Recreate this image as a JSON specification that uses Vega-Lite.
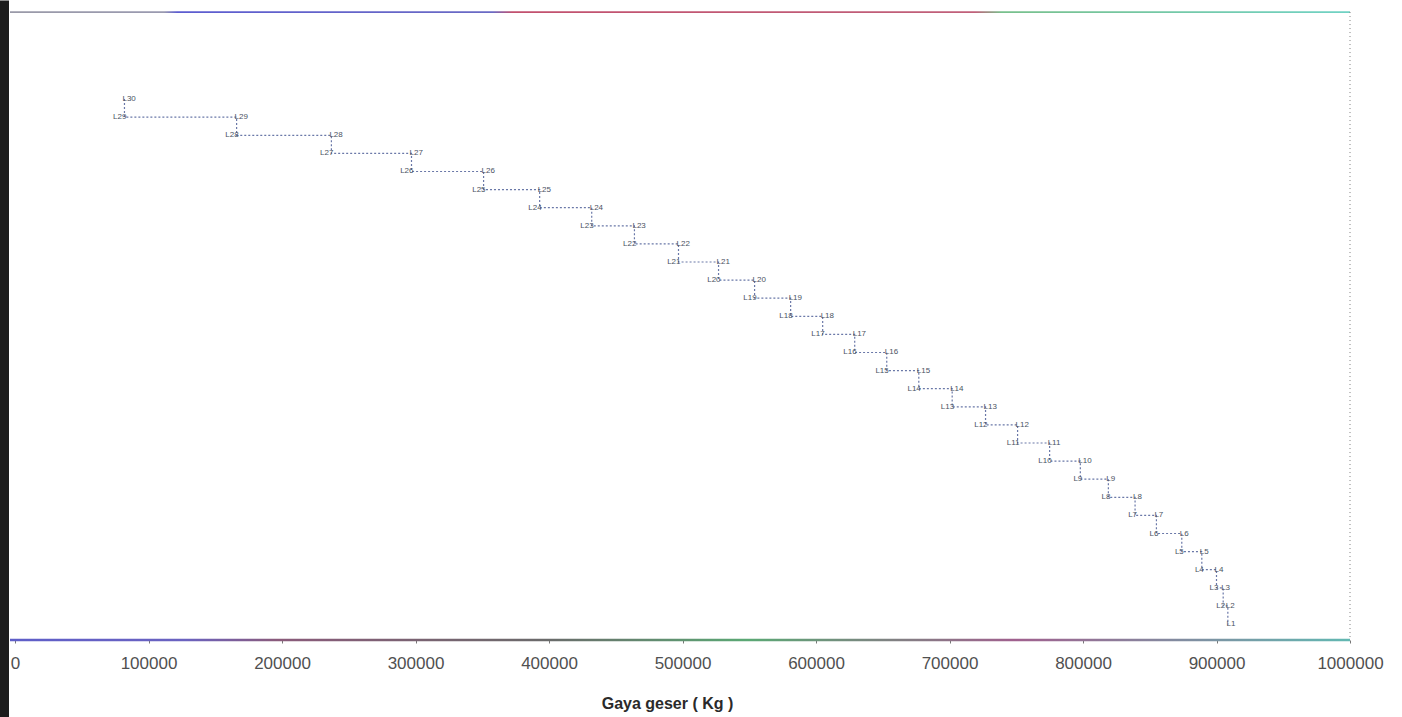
{
  "$schema": "https://vega.github.io/schema/vega-lite/v6.json",
  "width": 1402,
  "height": 717,
  "autosize": {"type": "none"},
  "padding": 0,
  "background": "#ffffff",
  "config": {"view": {"stroke": null}, "font": "Liberation Sans"},
  "data": {"values": [
    {"lv": 30, "lb": 29, "V": 82000, "a": "L30", "b": "L29"},
    {"lv": 29, "lb": 28, "V": 166000, "a": "L29", "b": "L28"},
    {"lv": 28, "lb": 27, "V": 237000, "a": "L28", "b": "L27"},
    {"lv": 27, "lb": 26, "V": 297000, "a": "L27", "b": "L26"},
    {"lv": 26, "lb": 25, "V": 351000, "a": "L26", "b": "L25"},
    {"lv": 25, "lb": 24, "V": 393000, "a": "L25", "b": "L24"},
    {"lv": 24, "lb": 23, "V": 432000, "a": "L24", "b": "L23"},
    {"lv": 23, "lb": 22, "V": 464000, "a": "L23", "b": "L22"},
    {"lv": 22, "lb": 21, "V": 497000, "a": "L22", "b": "L21"},
    {"lv": 21, "lb": 20, "V": 527000, "a": "L21", "b": "L20"},
    {"lv": 20, "lb": 19, "V": 554000, "a": "L20", "b": "L19"},
    {"lv": 19, "lb": 18, "V": 581000, "a": "L19", "b": "L18"},
    {"lv": 18, "lb": 17, "V": 605000, "a": "L18", "b": "L17"},
    {"lv": 17, "lb": 16, "V": 629000, "a": "L17", "b": "L16"},
    {"lv": 16, "lb": 15, "V": 653000, "a": "L16", "b": "L15"},
    {"lv": 15, "lb": 14, "V": 677000, "a": "L15", "b": "L14"},
    {"lv": 14, "lb": 13, "V": 702000, "a": "L14", "b": "L13"},
    {"lv": 13, "lb": 12, "V": 727000, "a": "L13", "b": "L12"},
    {"lv": 12, "lb": 11, "V": 751000, "a": "L12", "b": "L11"},
    {"lv": 11, "lb": 10, "V": 775000, "a": "L11", "b": "L10"},
    {"lv": 10, "lb": 9, "V": 798000, "a": "L10", "b": "L9"},
    {"lv": 9, "lb": 8, "V": 819000, "a": "L9", "b": "L8"},
    {"lv": 8, "lb": 7, "V": 839000, "a": "L8", "b": "L7"},
    {"lv": 7, "lb": 6, "V": 855000, "a": "L7", "b": "L6"},
    {"lv": 6, "lb": 5, "V": 874000, "a": "L6", "b": "L5"},
    {"lv": 5, "lb": 4, "V": 889000, "a": "L5", "b": "L4"},
    {"lv": 4, "lb": 3, "V": 900000, "a": "L4", "b": "L3"},
    {"lv": 3, "lb": 2, "V": 905000, "a": "L3", "b": "L2"},
    {"lv": 2, "lb": 1, "V": 908500, "a": "L2", "b": ""},
    {"lv": 1, "lb": 0, "V": 909000, "a": "L1", "b": ""}
  ]},
  "layer": [
    {
      "mark": {"type": "line", "interpolate": "step-before", "strokeDash": [2, 2], "strokeWidth": 1.2, "color": "#6a78a8"},
      "encoding": {
        "x": {
          "field": "V", "type": "quantitative",
          "scale": {"domain": [-11236, 1038951], "nice": false, "zero": false},
          "axis": {
            "orient": "bottom", "offset": -77,
            "values": [0, 100000, 200000, 300000, 400000, 500000, 600000, 700000, 800000, 900000, 1000000],
            "format": "d", "domain": false, "ticks": true, "tickSize": 3, "tickColor": "#777777",
            "labelFontSize": 17, "labelColor": "#505050", "labelFont": "Liberation Sans",
            "labelPadding": 12, "labelFlush": false, "labelOverlap": false, "grid": false,
            "title": "Gaya geser ( Kg )", "titleFontSize": 16, "titleFontWeight": "bold",
            "titleColor": "#2a2a2a", "titleFont": "Liberation Sans",
            "titleX": 667, "titleY": 63, "titleBaseline": "middle", "titleAlign": "center"
          }
        },
        "y": {
          "field": "lv", "type": "quantitative",
          "scale": {"domain": [-4.138, 35.475], "nice": false, "zero": false},
          "axis": {"orient": "left", "offset": -4, "domainWidth": 9, "domainColor": "#1c1c1c", "labels": false, "ticks": false, "grid": false, "title": null}
        },
        "order": {"field": "lv", "sort": "descending"}
      }
    },
    {
      "mark": {"type": "text", "fontSize": 8, "color": "#4a5262", "align": "left", "dx": -2, "baseline": "middle"},
      "encoding": {
        "x": {"field": "V", "type": "quantitative"},
        "y": {"field": "lv", "type": "quantitative"},
        "text": {"field": "a"}
      }
    },
    {
      "transform": [{"filter": "datum.b != ''"}],
      "mark": {"type": "text", "fontSize": 8, "color": "#4a5262", "align": "right", "dx": 2, "baseline": "middle"},
      "encoding": {
        "x": {"field": "V", "type": "quantitative"},
        "y": {"field": "lb", "type": "quantitative"},
        "text": {"field": "b"}
      }
    },
    {
      "data": {"values": [{}]},
      "mark": {"type": "rect", "fill": {"gradient": "linear", "x1": 0, "x2": 1, "y1": 0, "y2": 0, "stops": [
        {"offset": 0, "color": "#9a9aa8"}, {"offset": 0.115, "color": "#9a9ab0"},
        {"offset": 0.125, "color": "#5c5cd0"}, {"offset": 0.36, "color": "#6a6ac4"},
        {"offset": 0.375, "color": "#c2506e"}, {"offset": 0.72, "color": "#c0607a"},
        {"offset": 0.74, "color": "#78c08c"}, {"offset": 1, "color": "#70d2c4"}]}},
      "encoding": {
        "x": {"datum": -3745, "type": "quantitative"},
        "x2": {"datum": 1000000},
        "y": {"datum": 34.86, "type": "quantitative"},
        "y2": {"datum": 34.76}
      }
    },
    {
      "data": {"values": [{}]},
      "mark": {"type": "rect", "fill": {"gradient": "linear", "x1": 0, "x2": 1, "y1": 0, "y2": 0, "stops": [
        {"offset": 0, "color": "#5e5ec8"}, {"offset": 0.13, "color": "#6a62c0"},
        {"offset": 0.2, "color": "#8a5a7a"}, {"offset": 0.4, "color": "#6a6a6a"},
        {"offset": 0.55, "color": "#5aa874"}, {"offset": 0.75, "color": "#a0608e"},
        {"offset": 1, "color": "#62b8b2"}]}},
      "encoding": {
        "x": {"datum": -3745, "type": "quantitative"},
        "x2": {"datum": 1000000},
        "y": {"datum": 0.18, "type": "quantitative"},
        "y2": {"datum": 0.05}
      }
    },
    {
      "data": {"values": [{}]},
      "mark": {"type": "rule", "strokeDash": [1, 3], "color": "#808080", "strokeWidth": 1},
      "encoding": {
        "x": {"datum": 1000000, "type": "quantitative"},
        "y": {"datum": 34.81, "type": "quantitative"},
        "y2": {"datum": 0.116}
      }
    }
  ]
}
